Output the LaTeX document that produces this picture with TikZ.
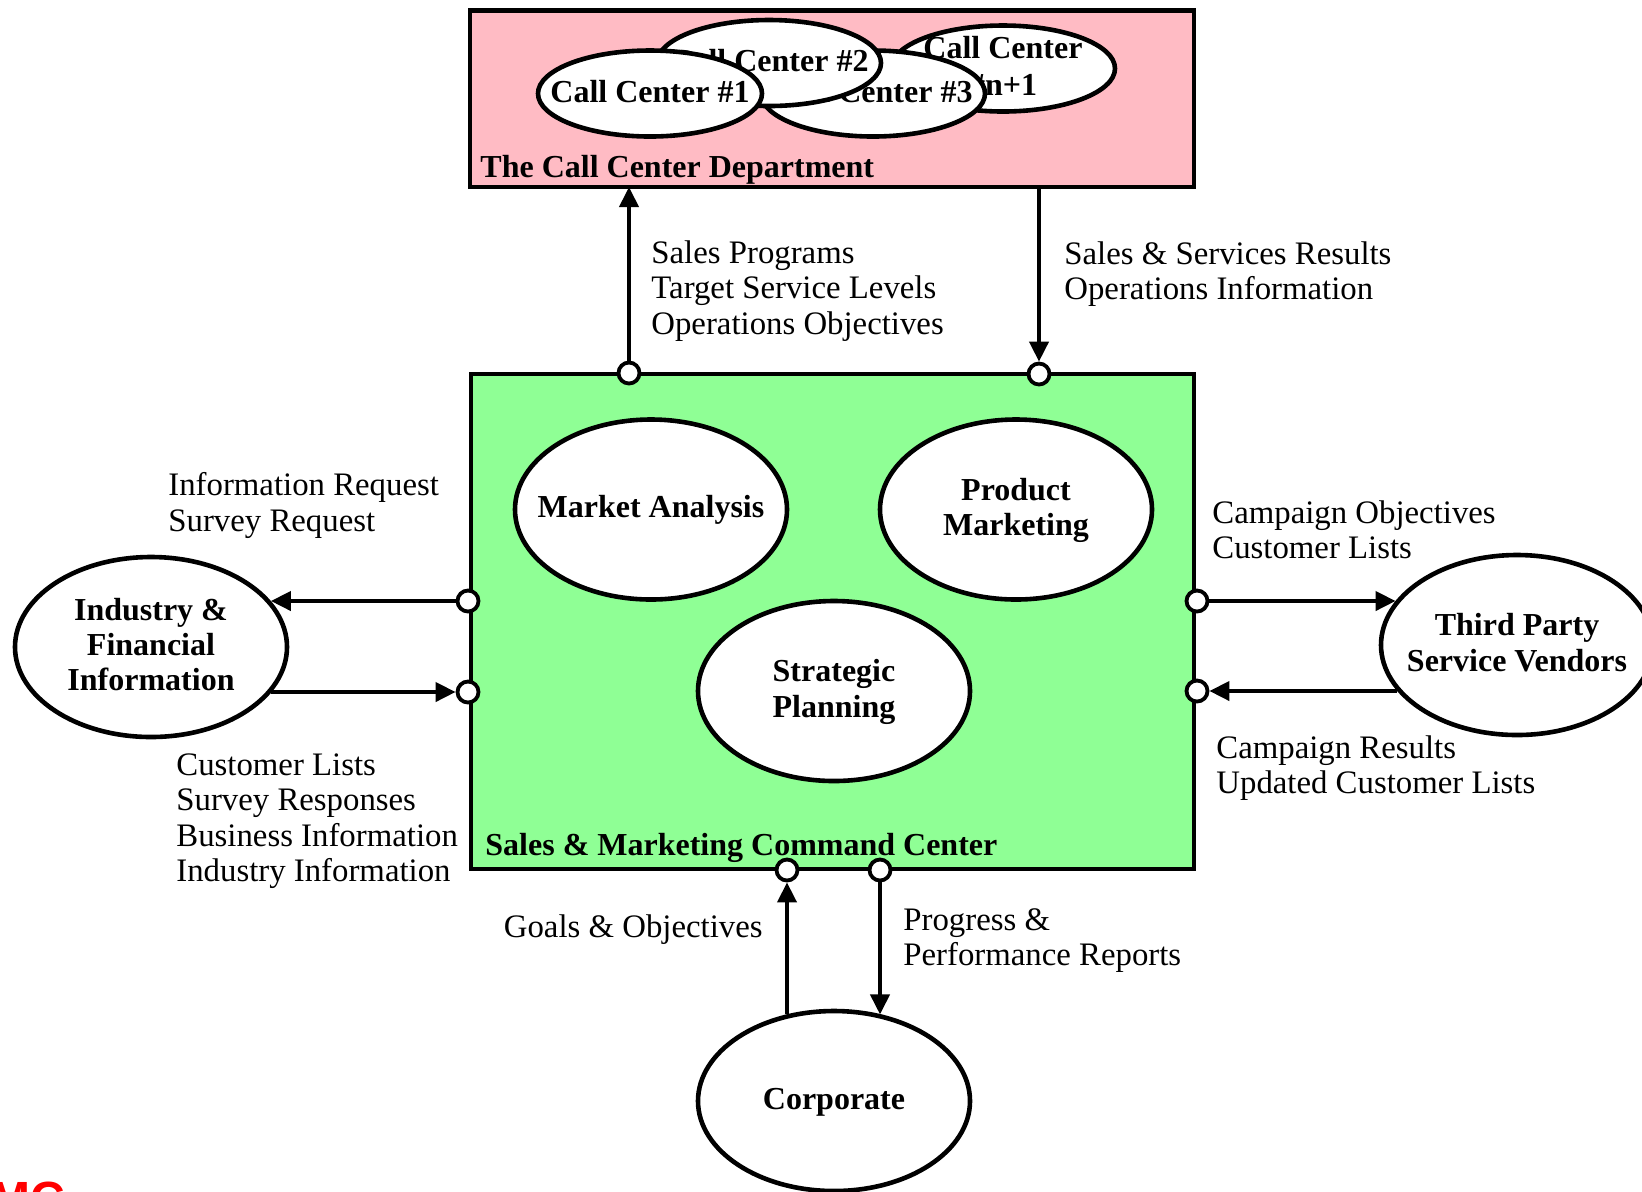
\documentclass[tikz,border=0pt]{standalone}
\usepackage{fontspec}
\setmainfont{Liberation Serif}
\setsansfont{Liberation Sans}
\usetikzlibrary{shapes.geometric,arrows.meta}
\definecolor{pinkbg}{HTML}{FFBBC4}
\definecolor{greenbg}{HTML}{8FFF95}
% zero-size centred text block, so that an ellipse keeps its given size
\newcommand{\zbox}[1]{\makebox[0pt]{\smash{\raisebox{-5pt}{\begin{tabular}{@{}c@{}}#1\end{tabular}}}}}
\begin{document}
\begin{tikzpicture}[x=0.5pt,y=-0.5pt,
  box/.style={draw, line width=2.3pt, inner sep=0, outer sep=0, anchor=north west},
  ell/.style={ellipse, draw, fill=white, line width=2.3pt, inner sep=0, minimum width=136pt, minimum height=90pt, font=\bfseries\fontsize{16}{17.6}\selectfont},
  cc/.style={ellipse, draw, fill=white, line width=2.3pt, inner sep=0, minimum width=112pt, minimum height=43pt, font=\bfseries\fontsize{16}{18.3}\selectfont},
  port/.style={circle, draw, fill=white, line width=1.9pt, minimum size=10.5pt, inner sep=0},
  arr/.style={line width=2pt, -{Triangle[length=10pt,width=9.5pt]}},
  lbl/.style={inner sep=0, align=left, font=\fontsize{16.4}{17.8}\selectfont},
  ttl/.style={inner sep=0, font=\bfseries\fontsize{16}{17.5}\selectfont}]
\useasboundingbox (0,0) rectangle (1642,1191);
\fill[white] (0,0) rectangle (1642,1191);

% boxes
\node[box, fill=pinkbg, minimum width=362pt, minimum height=88.25pt] (ccd) at (470,10.5) {};
\node[box, fill=greenbg, minimum width=361.5pt, minimum height=247.5pt] (smcc) at (471,374) {};

% call centers
\node[cc] (ccn) at (1003,68.5) {\zbox{Call Center\\\#n+1}};
\node[cc] (cc3) at (873,93.5) {\zbox{Call Center \#3}};
\node[cc] (cc2) at (769,63) {\zbox{Call Center \#2}};
\node[cc] (cc1) at (650,93.5) {\zbox{Call Center \#1}};

\node[ttl, anchor=base west] (ccdt) at (480,177) {The Call Center Department};
\node[ttl, anchor=base west] (smcct) at (485,855) {Sales \& Marketing Command Center};

% inner ellipses
\node[ell] (ma) at (651,509.5) {\zbox{Market Analysis}};
\node[ell] (pm) at (1016,509.5) {\zbox{Product\\Marketing}};
\node[ell] (sp) at (834,691) {\zbox{Strategic\\Planning}};

% outer ellipses
\node[ell] (ind) at (151,647) {\zbox{Industry \&\\Financial\\Information}};
\node[ell] (tp) at (1517,645) {\zbox{Third Party\\Service Vendors}};
\node[ell] (corp) at (834,1101) {\zbox{Corporate}};

% ports
\node[port] (p1) at (629,373) {};
\node[port] (p2) at (1039,374) {};
\node[port] (p3) at (468,601) {};
\node[port] (p4) at (468,692) {};
\node[port] (p5) at (1197,601) {};
\node[port] (p6) at (1197,691) {};
\node[port] (p7) at (787,870) {};
\node[port] (p8) at (880,870) {};

% connectors
\draw[arr] (p1) -- (p1 |- ccd.south);
\draw[arr] (p2 |- ccd.south) -- (p2);
\draw[arr] (p3) -- (p3 -| ind.21);
\draw[arr] (p4 -| ind.-21) -- (p4);
\draw[arr] (p5) -- (p5 -| tp.160);
\draw[arr] (p6 -| tp.201) -- (p6);
\draw[arr] (p7 |- corp.119) -- (p7);
\draw[arr] (p8) -- (p8 |- corp.61);

% labels
\node[lbl, anchor=north west] (l1) at (651,240) {Sales Programs\\Target Service Levels\\Operations Objectives};
\node[lbl, anchor=north west] (l2) at (1064,241) {Sales \& Services Results\\Operations Information};
\node[lbl, anchor=north west] (l3) at (168,472) {Information Request\\Survey Request};
\node[lbl, anchor=north west] (l4) at (176,753) {Customer Lists\\Survey Responses\\Business Information\\Industry Information};
\node[lbl, anchor=north west] (l5) at (1212,500) {Campaign Objectives\\Customer Lists};
\node[lbl, anchor=north west] (l6) at (1216,735) {Campaign Results\\Updated Customer Lists};
\node[lbl, anchor=north east] (l7) at (763,914) {Goals \& Objectives};
\node[lbl, anchor=north west] (l8) at (903,908) {Progress \&\\Performance Reports};

% clipped red fragment at the bottom-left corner
\node[anchor=north west, inner sep=0, text=red, font=\sffamily\bfseries\fontsize{24}{24}\selectfont] (frag) at (-10,1182) {MC};
\end{tikzpicture}
\end{document}
